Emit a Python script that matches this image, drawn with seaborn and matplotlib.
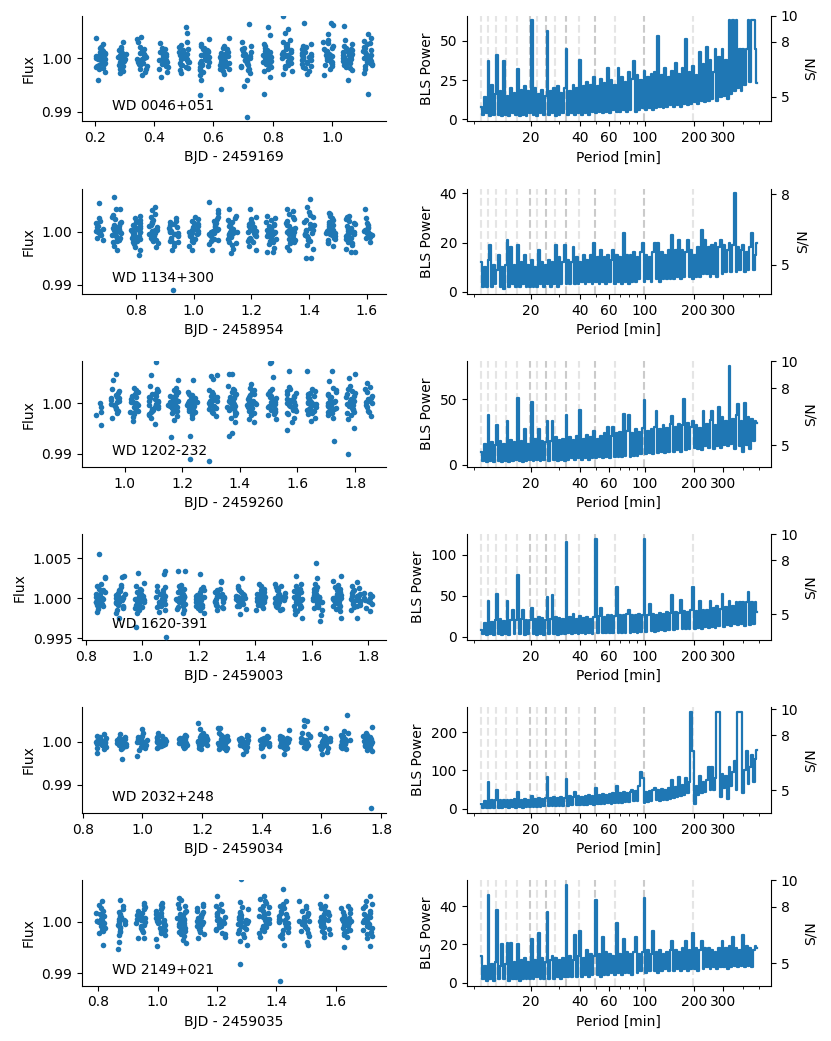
import numpy as np
import pandas as pd
import matplotlib
matplotlib.use("Agg")
import matplotlib.pyplot as plt
import seaborn as sns
from matplotlib.ticker import NullFormatter, NullLocator

np.random.seed(7)

# ---------------- data ----------------
names = ["WD 0046+051", "WD 1134+300", "WD 1202-232", "WD 1620-391", "WD 2032+248", "WD 2149+021"]
bjd_offsets = [2459169, 2458954, 2459260, 2459003, 2459034, 2459035]

# light curves: visit centres (BJD - offset) and flux deviations in units of 1e-4
lc1_times = [0.220, 0.291, 0.359, 0.431, 0.501, 0.570, 0.637, 0.709, 0.781, 0.848, 0.914, 0.987, 1.053, 1.120]
lc1_flux = [
    [38, 26, 19, 14, 9, 6, 3, 1, -2, -4, -7, -10, -13, -16, -20, -25, -40, 11, -1, 4],
    [31, 22, 15, 10, 7, 4, 1, -1, -3, -6, -9, -12, -15, -19, -24, -28, 2, -5],
    [40, 37, 30, 18, 12, 8, 3, 0, -2, -5, -8, -11, -15, -19, -25, -31, 5, -4],
    [29, 20, 13, 9, 5, 2, -1, -3, -6, -9, -12, -16, -20, -26, -34, 0, -7],
    [58, 47, 31, 22, 15, 10, 6, 3, 0, -3, -6, -9, -12, -16, -21, -27, 2, -2, 8],
    [36, 27, 20, 15, 11, 7, 4, 1, -2, -5, -8, -11, -14, -17, -21, -26, -31, -40, -68, 3, -4, 9],
    [39, 24, 17, 12, 8, 5, 2, 0, -3, -6, -9, -12, -15, -19, -24, -30, -57, 3, -5],
    [64, 30, 20, 14, 9, 6, 3, 0, -3, -6, -9, -12, -16, -21, -27, -40, -51, -109, 2, -4],
    [59, 44, 27, 20, 14, 10, 6, 3, 0, -3, -6, -10, -14, -19, -24, -34, -66, 5, -2],
    [80, 55, 47, 35, 27, 21, 16, 11, 7, 4, 1, -2, -5, -9, -13, -18, -24, -30, 9, 2],
    [66, 27, 21, 16, 12, 8, 5, 2, -1, -4, -7, -10, -14, -18, -23, -29, 6, 0, 3],
    [66, 62, 45, 31, 24, 18, 13, 9, 5, 2, -1, -4, -7, -11, -15, -20, -32, 7, 1],
    [60, 34, 26, 20, 15, 11, 7, 4, 1, -2, -5, -8, -12, -16, -21, -40, 6, 2],
    [45, 38, 29, 22, 16, 11, 7, 4, 1, -2, -5, -8, -11, -15, -20, -28, -67, 3, 9],
]
lc1_core = [
    [16, 10, 4, -3, -8, -14, 21, -18], [13, 8, 2, -4, -10, 18, -14, 5],
    [22, 14, 6, -1, -7, -13, -20, 10], [17, 11, 4, -4, -10, -15, 7, -2],
    [18, 12, 5, -1, -7, -13, 25, -18], [24, 17, 9, 2, -6, -12, -19, 13],
    [20, 14, 6, -2, -8, -14, 10, -20], [17, 11, 4, -3, -9, -15, 24, -19],
    [23, 16, 8, 1, -5, -11, -17, 12], [24, 18, 12, 6, 0, -7, -15, 30],
    [24, 18, 10, 4, -3, -9, -16, 14], [28, 20, 14, 7, 0, -6, -13, 35],
    [23, 17, 9, 3, -4, -10, -18, 12], [26, 19, 13, 6, 0, -7, -13, 33],
]

lc2_times = [0.669, 0.731, 0.800, 0.861, 0.931, 1.000, 1.069, 1.137, 1.202, 1.269, 1.337, 1.400, 1.474, 1.543, 1.602]
lc2_flux = [
    [53, 25, 17, 10, 5, 1, -3, -7, -11, -15, 2, -1],
    [66, 43, 42, 31, 23, 16, 11, 7, 3, 0, -3, -7, -11, -15, -20, -26, -34, 5, -1],
    [30, 22, 16, 11, 7, 3, 0, -3, -6, -10, -14, -18, -23, -28, -35, -43, 2, -2, 9, -8],
    [47, 40, 27, 19, 13, 8, 4, 1, -2, -5, -9, -13, -17, -22, -28, 3, -4],
    [26, 18, 12, 7, 3, 0, -3, -7, -11, -15, -20, -26, -34, -110, 2, -5],
    [28, 20, 14, 9, 5, 2, -1, -4, -7, -11, -15, -20, -26, -34, 4, -3],
    [55, 41, 28, 20, 14, 9, 5, 1, -2, -5, -9, -13, -18, -24, -34, 3, -1],
    [42, 30, 22, 16, 11, 7, 3, 0, -3, -6, -10, -14, -19, -25, -33, -40, 2, -4],
    [42, 28, 20, 14, 9, 5, 2, -1, -4, -7, -11, -15, -20, -26, -34, 3, -2],
    [30, 22, 15, 10, 6, 2, -1, -4, -8, -12, -17, -23, -30, -38, -38, 1, -3],
    [42, 38, 33, 24, 16, 10, 5, 1, -3, -7, -11, -16, -22, -28, -34, 2, -1],
    [62, 47, 37, 27, 18, 12, 7, 2, -2, -7, -12, -18, -25, -32, -50, -50, 4, -4],
    [35, 33, 30, 22, 15, 10, 6, 2, -1, -4, -8, -12, -16, -21, -27, 3, -2],
    [30, 24, 17, 11, 7, 3, 0, -3, -6, -10, -14, -19, -25, -33, -38, -38, 2, -5],
    [43, 25, 12, 6, 2, -2, -7, -12, -20, 3],
]
lc2_core = [
    [20, 8, -5], [19, 13, 6, -1, -8, -13, 27, -17],
    [19, 13, 5, -1, -8, -12, -20, 26], [22, 16, 10, 2, -4, -11, -15, 34],
    [21, 15, 9, 1, -5, -9, -17, -22], [24, 17, 11, 3, -2, -9, -13, -18],
    [24, 17, 11, 3, -4, -7, -15, 35], [26, 19, 13, 5, -1, -8, -12, -21],
    [24, 17, 11, 4, -2, -9, -13, -17], [26, 18, 12, 4, -2, -6, -14, -20],
    [28, 20, 13, 7, -1, -5, -13, -19], [32, 22, 15, 9, 4, -4, -9, -15],
    [26, 18, 12, 4, -2, -6, -14, -19], [27, 20, 14, 5, -1, -8, -12, -22],
    [17, 9, 0, -4, -10],
]

lc3_times = [0.906, 0.969, 1.032, 1.101, 1.168, 1.234, 1.306, 1.372, 1.441, 1.510, 1.579, 1.648, 1.719, 1.786, 1.844]
lc3_flux = [
    [1, -8, -17, -24, -44],
    [57, 45, 27, 20, 12, 6, 2, -2, -6, -12, -20, -30, 9],
    [30, 21, 14, 8, 4, 0, -4, -8, -12, -17, -22, -28, -35, 2, -2],
    [80, 55, 33, 24, 17, 12, 7, 3, -1, -5, -9, -13, -18, -24, -30, -41, 4, -3],
    [45, 30, 22, 16, 11, 6, 2, -2, -6, -10, -15, -20, -26, -33, -67, 3, -4],
    [45, 22, 15, 10, 5, 1, -3, -7, -12, -17, -23, -30, -110, -65, 2, -5],
    [55, 53, 47, 25, 17, 11, 6, 2, -2, -6, -10, -15, -20, -26, -115, 4],
    [58, 57, 33, 25, 18, 12, 7, 2, -2, -7, -12, -17, -23, -30, -38, -60, -64, 3],
    [38, 30, 22, 15, 10, 5, 1, -3, -7, -12, -17, -23, -31, -38, 2, -4],
    [80, 78, 52, 28, 20, 14, 9, 4, 0, -4, -8, -13, -18, -24, -31, 2, -2],
    [63, 32, 24, 17, 11, 6, 2, -2, -6, -11, -16, -22, -29, -37, -54, 4, -3],
    [63, 28, 20, 14, 9, 5, 1, -3, -7, -11, -16, -22, -29, -35, 3, -1],
    [63, 43, 30, 21, 15, 10, 5, 1, -3, -7, -12, -17, -23, -30, -75, 3, -4],
    [57, 49, 34, 24, 17, 11, 6, 2, -2, -6, -11, -17, -24, -32, -50, -100, 4],
    [40, 32, 22, 14, 7, 3, 0, -8, -15, -18, -25],
]
lc3_core = [
    [], [16, 9, 4, -4, -9, -16, 24],
    [25, 17, 11, 2, -2, -10, -15, -20], [28, 20, 14, 9, 5, -3, -7, -11, -16, -21],
    [26, 19, 13, 8, 4, -4, -8, -13, -18], [18, 12, 7, 3, -1, -5, -10, -15, -20],
    [21, 14, 9, 4, 0, -4, -8, -12, -17], [28, 21, 15, 9, 4, 0, -5, -10, -14, -20],
    [26, 18, 12, 7, 3, -1, -5, -10, -15, -20], [24, 17, 11, 6, 2, -2, -6, -11, -16, -21],
    [28, 20, 14, 8, 4, 0, -4, -8, -13, -19], [24, 17, 11, 7, 3, -1, -5, -9, -14, -19],
    [26, 18, 12, 7, 3, -1, -5, -10, -15, -20], [28, 20, 13, 8, 4, 0, -4, -9, -14, -20],
    [27, 10, 5, -3],
]

lc4_times = [0.852, 0.921, 0.991, 1.066, 1.136, 1.205, 1.274, 1.349, 1.419, 1.488, 1.552, 1.622, 1.691, 1.755, 1.801]
lc4_flux = [
    [55, 27, 25, 18, 12, 8, 5, 2, 0, -2, -4, -6, -8, -10, -13, -17, 3, -1],
    [28, 27, 17, 11, 7, 4, 1, -1, -3, -5, -8, -11, -14, -18, -25, 3, -2],
    [32, 19, 12, 8, 5, 2, 0, -2, -4, -6, -9, -12, -15, -18, -36, 3, -1],
    [34, 30, 14, 9, 6, 3, 1, -1, -3, -5, -8, -11, -14, -17, -49, 2, -2, 5],
    [34, 34, 15, 10, 6, 3, 1, -1, -3, -5, -8, -11, -14, -18, 2, -2, 4],
    [30, 14, 10, 6, 3, 1, -1, -3, -5, -8, -11, -14, -18, 2, -2],
    [22, 20, 12, 8, 5, 2, 0, -2, -4, -6, -9, -12, -15, 3],
    [25, 15, 10, 6, 3, 1, -1, -3, -6, -9, -13, -20, 2],
    [18, 12, 8, 5, 2, 0, -2, -4, -7, -10, -14, 3, -1],
    [18, 14, 10, 6, 3, 1, -1, -3, -5, -8, -11, -15, 2, -2],
    [28, 15, 12, 9, 6, 3, 1, -1, -3, -5, -8, -11, -14, -19, -24, 4, -2, 7],
    [44, 26, 14, 10, 6, 3, 1, -1, -3, -5, -8, -11, -15, -21, -29, 2, -2],
    [28, 22, 14, 10, 6, 3, 1, -1, -3, -6, -9, -12, -16, -25, 2, -2],
    [20, 16, 11, 7, 4, 2, 0, -2, -4, -7, -10, -14, -24, 3, -1],
    [7, 3, 0, -3, -7, -12, -16],
]
lc4_core = [
    [15, 10, 6, 3, 1, -1, -3, -5, -7, -9], [14, 9, 5, 2, 0, -2, -4, -6, -9, -12],
    [15, 10, 6, 3, 1, -1, -3, -5, -8, -11], [16, 11, 7, 4, 2, 0, -2, -4, -7, -10],
    [17, 12, 8, 4, 2, 0, -2, -4, -7, -10, -13], [12, 8, 4, 2, 0, -2, -4, -7, -10, -12],
    [10, 6, 3, 1, -1, -3, -5, -8, -11], [13, 8, 4, 2, 0, -2, -4, -7, -10],
    [15, 10, 6, 3, 1, -1, -3, -5, -8, -12], [16, 11, 7, 4, 2, 0, -2, -4, -6, -9, -13],
    [18, 13, 8, 4, 2, 0, -2, -4, -6, -9, -12, -16], [18, 12, 8, 4, 2, 0, -2, -4, -6, -9, -12],
    [17, 12, 8, 4, 2, 0, -2, -4, -7, -10, -13], [13, 9, 5, 3, 1, -1, -3, -5, -8, -11],
    [5, 1, -2, -5],
]

lc5_times = [0.861, 0.930, 0.998, 1.064, 1.133, 1.202, 1.270, 1.339, 1.408, 1.478, 1.544, 1.613, 1.681, 1.756]
lc5_flux = [
    [18, 13, 9, 5, 2, 0, -2, -5, -8, -12, -17, -25, 3, -1],
    [18, 12, 8, 4, 1, -2, -5, -8, -12, -17, -40, 2, -3],
    [30, 22, 15, 10, 6, 3, 0, -3, -6, -9, -13, -18, -32, 2, -2],
    [20, 14, 9, 5, 2, 0, -2, -5, -8, -11, 3, -1],
    [16, 12, 8, 4, 1, -2, -5, -8, -12, 2, -1],
    [45, 30, 20, 15, 11, 7, 4, 1, -2, -5, -8, -12, -16, 3, -1, 9],
    [33, 33, 20, 14, 9, 5, 2, -1, -4, -7, -11, -15, -19, 3, 0, 7],
    [17, 12, 8, 4, 1, -2, -5, -8, -12, -20, -27, 2],
    [30, 15, 10, 6, 3, 0, -3, -6, -10, -14, -32, 2],
    [27, 15, 10, 6, 3, 0, -3, -6, -10, -14, -28, 2],
    [52, 48, 38, 22, 14, 9, 5, 2, -1, -4, -8, -12, 3, 0],
    [33, 18, 12, 8, 4, 1, -2, -5, -9, -14, -23, -28, 2, -1],
    [62, 25, 20, 14, 9, 5, 2, -1, -4, -8, -12, -16, 3, -2],
    [35, 22, 17, 11, 6, 3, 0, -3, -7, -12, -18, -155, 2, -2],
]
lc5_core = [
    [11, 7, 3, 1, -1, -3, -6, -10, -14], [10, 6, 2, 0, -3, -6, -10, -14],
    [12, 8, 4, 1, -1, -4, -7, -11], [12, 8, 4, 1, -1, -3, -6, -9, -13],
    [14, 10, 6, 3, 0, -3, -6, -10, -14], [17, 12, 8, 5, 2, 0, -3, -6, -10, -14],
    [17, 12, 8, 4, 1, -2, -5, -9, -13, -17], [14, 10, 6, 2, -1, -4, -7, -10, -15],
    [12, 8, 4, 1, -2, -5, -8, -12], [12, 8, 4, 1, -2, -5, -8, -12, -17],
    [18, 12, 7, 3, 0, -3, -6, -10, -14], [14, 10, 6, 3, 0, -3, -7, -11, -16],
    [17, 11, 7, 3, 0, -3, -6, -10, -14], [14, 9, 5, 2, -1, -4, -9, -14, -20],
]

lc6_times = [0.809, 0.875, 0.942, 1.009, 1.080, 1.147, 1.214, 1.288, 1.358, 1.424, 1.494, 1.563, 1.635, 1.707]
lc6_flux = [
    [40, 33, 22, 15, 9, 4, 0, -4, -9, -15, -22, -45, 2, -2],
    [43, 30, 20, 12, 6, 1, -4, -10, -17, -25, -40, -52, 2],
    [37, 32, 25, 18, 11, 5, 0, -6, -12, -20, -32, -32, 3],
    [37, 33, 25, 18, 12, 7, 2, -2, -7, -12, -18, -25, -33, -47, 4, -3],
    [47, 42, 30, 22, 16, 10, 5, 0, -4, -9, -14, -20, -27, -36, -41, 3, -2],
    [35, 26, 19, 13, 8, 3, -1, -6, -11, -17, -24, -32, 2, -3],
    [50, 35, 25, 18, 12, 6, 2, -3, -8, -14, -21, -30, 4, -1],
    [83, 38, 28, 20, 13, 7, 2, -3, -8, -14, -21, -30, -45, -38, -82, 4, -1],
    [50, 45, 36, 28, 21, 15, 10, 5, 1, -3, -8, -14, -21, -30, 3],
    [63, 40, 30, 22, 15, 9, 4, 0, -5, -10, -16, -23, -32, -45, -115, 3, -2],
    [40, 30, 22, 15, 9, 4, 0, -5, -11, -18, -28, -40, -45, 2],
    [50, 35, 26, 19, 13, 7, 2, -3, -8, -14, -21, -30, 3, -1],
    [30, 24, 17, 11, 6, 1, -4, -9, -15, -22, -30, -50, 2],
    [50, 40, 30, 22, 15, 9, 4, 0, -5, -10, -16, -23, -32, -48, 3, -2],
]
lc6_core = [
    [27, 18, 12, 6, 2, -2, -6, -12, -18], [25, 16, 9, 3, -2, -7, -13, -20],
    [28, 21, 14, 8, 2, -3, -9, -16], [28, 21, 15, 9, 4, 0, -4, -9, -15, -21],
    [34, 26, 19, 13, 7, 2, -2, -7, -12, -17, -23], [30, 22, 16, 10, 5, 1, -4, -9, -14, -20],
    [30, 21, 15, 9, 4, 0, -5, -10, -16, -24], [24, 17, 10, 5, 0, -5, -10, -16, -24],
    [40, 31, 24, 18, 12, 7, 3, -1, -5, -11, -17], [34, 26, 18, 12, 6, 2, -3, -8, -13, -19, -27],
    [26, 18, 12, 6, 2, -2, -8, -14, -22], [30, 22, 15, 10, 4, 0, -5, -11, -17, -24],
    [27, 20, 13, 8, 3, -2, -7, -12, -18, -26], [34, 26, 18, 12, 6, 2, -3, -8, -13, -20, -27],
]

flux_ylims = [(0.98825, 1.008), (0.9883, 1.0081), (0.9874, 1.0082),
              (0.9948, 1.008), (0.98346, 1.0081), (0.98755, 1.0081)]

# BLS periodograms (power on a log-spaced period grid from 10 to 486 min)
period_min, period_max = 10.0, 486.0
bls1 = [8, 3, 14, 4, 37, 2, 22, 3, 16, 41,
        3, 18, 2, 37, 3, 15, 2, 20, 4, 17,
        3, 32, 2, 19, 3, 21, 2, 18, 4, 63,
        3, 20, 2, 16, 4, 19, 3, 15, 56, 3,
        18, 4, 20, 2, 21, 3, 17, 4, 20, 45,
        3, 18, 4, 22, 3, 20, 4, 38, 3, 21,
        4, 24, 3, 22, 5, 27, 4, 21, 5, 26,
        4, 23, 5, 33, 4, 25, 6, 22, 5, 33,
        5, 27, 6, 24, 5, 30, 6, 26, 37, 5,
        28, 6, 25, 7, 31, 6, 27, 7, 29, 6,
        30, 7, 53, 8, 28, 7, 33, 8, 27, 9,
        31, 8, 36, 9, 29, 8, 33, 10, 51, 9,
        30, 10, 34, 11, 28, 10, 43, 12, 35, 11,
        46, 12, 38, 13, 30, 45, 12, 40, 14, 45,
        15, 38, 13, 63, 16, 63, 18, 63, 20, 45,
        18, 45, 22, 45, 63, 24, 63, 63, 45, 23]
bls2 = [12, 2, 10, 2, 13, 19, 2, 11, 3, 9,
        15, 2, 10, 1, 11, 21, 2, 18, 3, 11,
        2, 19, 2, 12, 3, 15, 2, 11, 2, 13,
        2, 10, 2, 17, 3, 12, 2, 11, 3, 13,
        2, 12, 3, 19, 2, 14, 3, 12, 19, 3,
        13, 3, 12, 18, 3, 14, 3, 12, 4, 15,
        3, 13, 4, 15, 3, 20, 4, 14, 3, 17,
        4, 14, 3, 15, 4, 13, 17, 3, 15, 4,
        14, 3, 24, 4, 15, 3, 15, 4, 16, 4,
        14, 5, 16, 20, 4, 15, 5, 14, 4, 16,
        20, 5, 20, 4, 16, 5, 15, 5, 17, 5,
        23, 5, 17, 6, 21, 5, 17, 6, 16, 21,
        6, 17, 5, 15, 6, 18, 6, 25, 7, 21,
        7, 18, 6, 19, 7, 20, 6, 18, 21, 7,
        19, 8, 17, 20, 8, 19, 40, 8, 18, 9,
        17, 19, 8, 16, 9, 18, 24, 9, 15, 20]
bls3 = [10, 3, 16, 2, 38, 3, 17, 2, 15, 30,
        3, 18, 2, 16, 3, 33, 2, 19, 3, 17,
        4, 51, 3, 18, 2, 27, 3, 16, 4, 48,
        3, 20, 4, 27, 3, 18, 4, 17, 33, 3,
        18, 33, 4, 21, 3, 19, 4, 20, 3, 38,
        4, 21, 5, 19, 4, 22, 5, 42, 4, 20,
        5, 23, 4, 21, 5, 26, 5, 20, 6, 22,
        5, 24, 6, 29, 5, 22, 29, 6, 24, 6,
        25, 6, 39, 7, 26, 38, 6, 24, 7, 27,
        7, 25, 8, 28, 49, 8, 26, 9, 27, 8,
        29, 41, 9, 27, 10, 30, 9, 28, 10, 31,
        37, 10, 29, 11, 31, 10, 30, 50, 11, 32,
        12, 29, 33, 13, 30, 12, 28, 11, 41, 14,
        31, 13, 34, 41, 12, 30, 14, 44, 13, 36,
        15, 33, 14, 75, 16, 35, 12, 38, 46, 14,
        33, 10, 47, 15, 36, 12, 35, 18, 33, 32]
bls4 = [8, 3, 17, 2, 44, 3, 18, 2, 20, 52,
        3, 22, 2, 19, 3, 43, 2, 21, 33, 3,
        20, 75, 3, 22, 33, 2, 21, 3, 20, 35,
        3, 22, 2, 24, 3, 23, 2, 21, 49, 3,
        22, 51, 3, 24, 2, 23, 3, 22, 3, 116,
        4, 24, 3, 28, 4, 22, 3, 25, 4, 23,
        3, 24, 4, 22, 3, 24, 119, 4, 25, 35,
        4, 24, 5, 26, 4, 27, 5, 25, 61, 5,
        27, 4, 26, 5, 28, 33, 5, 26, 6, 27,
        5, 28, 6, 27, 119, 6, 27, 40, 7, 28,
        6, 27, 7, 29, 8, 28, 7, 30, 8, 29,
        51, 8, 30, 9, 29, 45, 9, 31, 10, 30,
        9, 32, 61, 10, 31, 11, 44, 10, 33, 12,
        32, 11, 43, 12, 35, 11, 37, 13, 34, 52,
        12, 36, 14, 43, 13, 38, 15, 42, 14, 42,
        15, 42, 13, 42, 54, 14, 42, 16, 42, 30]
bls5 = [12, 3, 20, 2, 70, 3, 22, 2, 24, 50,
        3, 23, 2, 22, 4, 24, 3, 22, 4, 25,
        3, 43, 4, 24, 3, 25, 4, 23, 5, 33,
        4, 26, 5, 27, 5, 25, 6, 28, 84, 6,
        27, 7, 30, 6, 28, 8, 31, 7, 29, 78,
        8, 32, 9, 30, 45, 9, 33, 10, 31, 11,
        34, 10, 35, 12, 33, 11, 53, 12, 36, 13,
        38, 12, 37, 14, 39, 13, 40, 14, 60, 15,
        41, 16, 45, 17, 42, 18, 44, 50, 19, 46,
        20, 60, 97, 80, 15, 45, 18, 47, 20, 50,
        55, 22, 48, 21, 52, 24, 50, 23, 55, 25,
        75, 27, 58, 30, 82, 32, 62, 35, 80, 40,
        70, 252, 150, 12, 60, 35, 85, 40, 70, 45,
        75, 110, 50, 110, 48, 80, 252, 252, 30, 90,
        55, 85, 25, 110, 60, 95, 125, 50, 252, 252,
        252, 40, 100, 150, 65, 110, 140, 70, 130, 152]
bls6 = [14, 2, 9, 1, 46, 2, 10, 1, 11, 38,
        2, 9, 20, 2, 10, 21, 1, 21, 2, 11,
        2, 20, 1, 12, 2, 13, 2, 11, 2, 23,
        2, 12, 3, 26, 2, 13, 2, 11, 37, 2,
        12, 14, 2, 13, 3, 12, 2, 13, 3, 51,
        3, 14, 3, 12, 25, 3, 14, 27, 3, 13,
        4, 17, 3, 15, 4, 14, 43, 4, 15, 3,
        24, 4, 16, 4, 15, 5, 14, 4, 31, 5,
        15, 4, 23, 5, 16, 5, 15, 4, 16, 24,
        5, 15, 6, 16, 44, 5, 17, 6, 15, 27,
        6, 16, 5, 17, 6, 15, 7, 16, 6, 17,
        22, 6, 17, 7, 16, 6, 18, 7, 22, 6,
        17, 7, 26, 7, 18, 6, 17, 22, 7, 18,
        8, 18, 7, 17, 8, 16, 7, 18, 8, 22,
        8, 18, 7, 19, 8, 24, 9, 18, 8, 17,
        9, 25, 8, 19, 9, 18, 8, 17, 19, 18]

snr_limits = [(4.07, 10.0), (4.11, 8.32), (4.17, 10.0), (4.01, 10.0), (4.12, 10.16), (4.15, 10.0)]
snr_ticks = [5, 8, 10]
period_ticks = [20, 40, 60, 100, 200, 300]
# satellite orbit (98.77 min) and its aliases
orbit_strong = [19.75, 24.69, 32.92, 49.39, 98.77]
orbit_weak = [9.88, 10.97, 12.35, 14.11, 16.46, 21.95, 28.22, 39.51, 65.85, 197.54]

lc_times = [lc1_times, lc2_times, lc3_times, lc4_times, lc5_times, lc6_times]
lc_flux = [lc1_flux, lc2_flux, lc3_flux, lc4_flux, lc5_flux, lc6_flux]
lc_core = [lc1_core, lc2_core, lc3_core, lc4_core, lc5_core, lc6_core]
bls_all = [bls1, bls2, bls3, bls4, bls5, bls6]

# ---------------- plot ----------------
blue = "#1f77b4"
fig, axes = plt.subplots(6, 2, figsize=(8.31, 10.41), dpi=100)
fig.subplots_adjust(left=0.0987, right=0.9278, top=0.985, bottom=0.0531,
                    wspace=0.265, hspace=0.639)

for k in range(6):
    axl, axr = axes[k]
    times = lc_times[k]
    fluxes = [a + b for a, b in zip(lc_flux[k], lc_core[k])]
    df = pd.DataFrame({
        "t": [c for c, vals in zip(times, fluxes) for _ in vals],
        "f": [1 + v * 1e-4 for vals in fluxes for v in vals],
    })
    jit = 0.017 / np.diff(np.sort(times)).min()
    sns.stripplot(data=df, x="t", y="f", native_scale=True, jitter=jit, size=4.0,
                  color=blue, orient="x", linewidth=0, ax=axl)
    axl.set_ylim(*flux_ylims[k])
    axl.set_xlabel(f"BJD - {bjd_offsets[k]}")
    axl.set_ylabel("Flux")
    axl.text(0.1, 0.11, names[k], transform=axl.transAxes, fontsize=10)
    sns.despine(ax=axl)

    bls = bls_all[k]
    periods = np.geomspace(period_min, period_max, len(bls))
    for p in orbit_weak:
        axr.axvline(p, color="0.6", ls="--", lw=1.5, alpha=0.25, zorder=0)
    for p in orbit_strong:
        axr.axvline(p, color="0.55", ls="--", lw=1.5, alpha=0.45, zorder=0)
    sns.lineplot(x=periods, y=bls, ax=axr, color=blue, lw=1.6, drawstyle="steps-mid")
    axr.set_xscale("log")
    axr.set_xticks(period_ticks, labels=[str(t) for t in period_ticks])
    axr.xaxis.set_minor_formatter(NullFormatter())
    axr.set_xlabel("Period [min]")
    axr.set_ylabel("BLS Power")
    axr.spines[["top", "right"]].set_visible(False)

    ax2 = axr.twinx()
    ax2.set_yscale("log")
    lo, hi = snr_limits[k]
    ax2.set_ylim(lo, hi)
    ticks = [t for t in snr_ticks if lo <= t <= hi]
    ax2.set_yticks(ticks, labels=[str(t) for t in ticks])
    ax2.yaxis.set_minor_locator(NullLocator())
    ax2.set_ylim(lo, hi)
    ax2.set_ylabel("S/N")
    ax2.spines[["top", "left", "bottom"]].set_visible(False)

fig.savefig("out.png", dpi=100)
